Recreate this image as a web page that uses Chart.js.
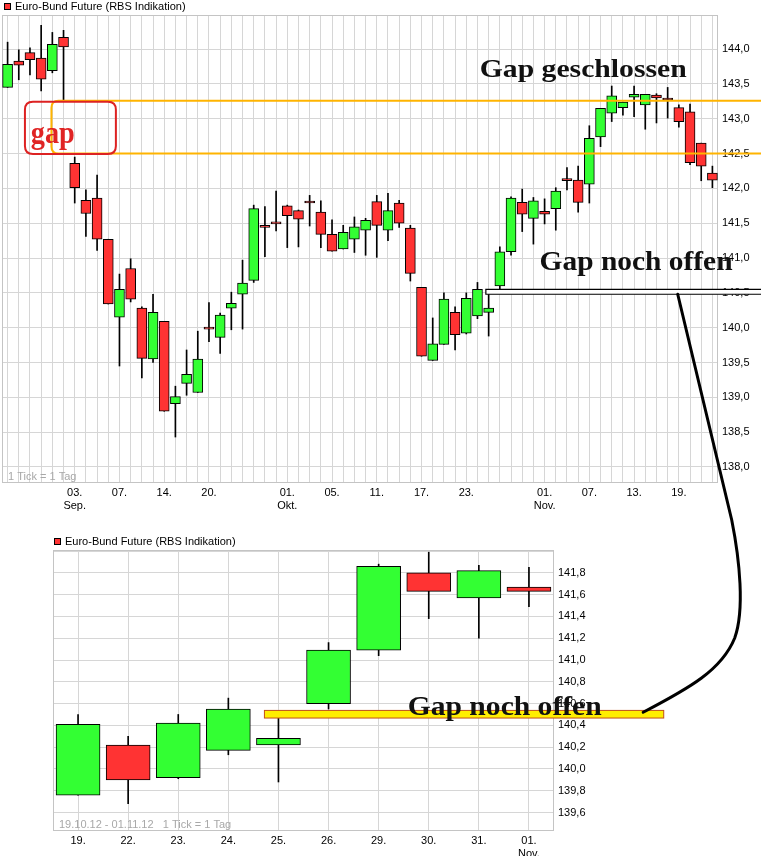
<!DOCTYPE html>
<html>
<head>
<meta charset="utf-8">
<script src="https://cdn.jsdelivr.net/npm/chart.js@4.4.1/dist/chart.umd.min.js"></script>
<style>
body{margin:0;background:#fff;width:761px;height:856px;overflow:hidden;position:relative}
canvas{position:absolute;left:0}
#top{top:0}
#bottom{top:520px}
#overlay{top:0;pointer-events:none}
</style>
</head>
<body>
<canvas id="top" width="761" height="520"></canvas>
<canvas id="bottom" width="761" height="336"></canvas>
<canvas id="overlay" width="761" height="856"></canvas>
<script>
// Euro-Bund Future, Tageskerzen
var dates = ['24.08','27.08','28.08','29.08','30.08','31.08','03.09','04.09','05.09','06.09',
  '07.09','10.09','11.09','12.09','14.09','17.09','18.09','19.09','20.09','21.09',
  '24.09','25.09','26.09','27.09','28.09','01.10','02.10','03.10','04.10','05.10',
  '08.10','09.10','10.10','11.10','12.10','15.10','16.10','17.10','18.10','19.10',
  '22.10','23.10','24.10','25.10','26.10','29.10','30.10','31.10','01.11','02.11',
  '05.11','06.11','07.11','08.11','09.11','12.11','13.11','14.11','15.11','16.11',
  '19.11','20.11','21.11','22.11'];
var open = [143.45,143.83,143.95,143.87,143.69,144.17,142.36,141.83,141.86,141.27,
  140.15,140.85,140.28,139.55,140.09,138.91,139.20,139.07,139.98,139.86,
  140.28,140.48,140.68,141.47,141.49,141.75,141.68,141.81,141.66,141.34,
  141.13,141.27,141.40,141.81,141.40,141.79,141.43,140.58,139.53,139.76,
  140.22,139.92,140.17,140.22,140.60,141.09,141.80,141.57,141.67,141.71,
  142.14,142.12,142.06,142.74,143.08,143.16,143.31,143.20,143.34,143.29,
  143.16,143.10,142.65,142.22];
var high = [144.10,143.99,144.02,144.34,144.24,144.27,142.45,141.98,142.19,141.27,
  140.77,140.99,140.30,140.48,140.09,139.16,139.68,139.95,140.36,140.21,
  140.51,140.97,141.76,141.74,141.96,141.76,141.69,141.90,141.82,141.55,
  141.47,141.59,141.57,141.90,141.93,141.83,141.47,140.58,140.14,140.50,
  140.30,140.50,140.65,140.48,141.16,141.88,141.99,141.87,141.85,142.01,
  142.30,142.32,142.90,143.15,143.47,143.24,143.47,143.35,143.36,143.45,
  143.20,143.21,142.65,142.32];
var low = [143.45,143.56,143.63,143.40,143.66,143.27,141.79,141.31,141.11,140.34,
  139.45,140.37,139.28,139.50,138.80,138.43,139.03,139.07,139.80,139.63,
  139.97,139.98,140.65,141.02,141.39,141.15,141.16,141.46,141.15,141.10,
  141.13,141.08,141.04,141.01,141.25,141.44,140.67,139.59,139.53,139.76,
  139.68,139.91,140.13,139.88,140.55,141.04,141.38,141.20,141.49,141.40,
  141.98,141.66,141.79,142.60,142.96,143.05,143.03,142.85,142.94,143.01,
  142.88,142.34,142.11,142.01];
var close = [143.78,143.77,143.85,143.57,144.07,144.03,142.01,141.64,141.27,140.34,
  140.55,140.41,139.56,140.22,138.80,139.01,139.33,139.55,139.98,140.18,
  140.35,140.64,141.71,141.44,141.49,141.61,141.56,141.79,141.34,141.10,
  141.37,141.45,141.54,141.47,141.68,141.50,140.78,139.59,139.77,140.41,
  139.90,140.42,140.55,140.28,141.09,141.86,141.63,141.82,141.63,141.96,
  142.11,141.80,142.72,143.15,143.33,143.24,143.35,143.35,143.30,143.27,
  142.96,142.37,142.32,142.12];

var topTicks = ['03.09','07.09','14.09','20.09','01.10','05.10','11.10','17.10','23.10','01.11','07.11','13.11','19.11'];
var topMonths = {'03.09':'Sep.','01.10':'Okt.','01.11':'Nov.'};
var bottomMonths = {'01.11':'Nov.'};
var zoomFrom = '19.10', zoomTo = '01.11';

var gapClosed = [142.50, 143.26];
var gapOpen = [140.48, 140.55];

var GREEN = '#33ff33', RED = '#ff3333', GRID = '#d6d6d6';
var SANS = '"Liberation Sans", Arial, sans-serif';
var SERIF = '"Liberation Serif", "Times New Roman", serif';

function fmt(v){ return v.toFixed(1).replace('.', ','); }

function candleSets(a, b, thick){
  var o = open.slice(a, b), h = high.slice(a, b), l = low.slice(a, b), c = close.slice(a, b);
  return [
    {
      label: 'body',
      data: o.map(function(v, i){ return [v, c[i]]; }),
      backgroundColor: o.map(function(v, i){ return c[i] > v ? GREEN : RED; }),
      borderColor: '#000', borderWidth: 1, borderSkipped: false,
      barThickness: thick, minBarLength: 2, grouped: false, order: 0
    },
    {
      label: 'wick',
      data: l.map(function(v, i){ return [v, h[i]]; }),
      backgroundColor: '#000', borderWidth: 0,
      barThickness: 1, grouped: false, order: 1
    }
  ];
}

function fitText(ctx, text, x, base, w, size, color, weight){
  ctx.save();
  ctx.font = (weight || 'bold') + ' ' + size + 'px ' + SERIF;
  var m = ctx.measureText(text).width;
  ctx.translate(x, base);
  ctx.scale(w / m, 1);
  ctx.fillStyle = color;
  ctx.textBaseline = 'alphabetic';
  ctx.fillText(text, 0, 0);
  ctx.restore();
}

function roundBox(ctx, x1, y1, x2, y2, r){
  ctx.beginPath();
  ctx.moveTo(x1 + r, y1);
  ctx.lineTo(x2 - r, y1); ctx.quadraticCurveTo(x2, y1, x2, y1 + r);
  ctx.lineTo(x2, y2 - r); ctx.quadraticCurveTo(x2, y2, x2 - r, y2);
  ctx.lineTo(x1 + r, y2); ctx.quadraticCurveTo(x1, y2, x1, y2 - r);
  ctx.lineTo(x1, y1 + r); ctx.quadraticCurveTo(x1, y1, x1 + r, y1);
  ctx.closePath();
}

// rahmen, legende und fussnote
function framePlugin(lx, ly, note){
  return {
    id: 'frame',
    beforeDatasetsDraw: function(chart){
      var a = chart.chartArea, ctx = chart.ctx;
      ctx.save();
      ctx.strokeStyle = '#c4c4c4';
      ctx.lineWidth = 1;
      ctx.strokeRect(Math.round(a.left) + 0.5, Math.round(a.top) + 0.5,
        Math.round(a.right - a.left) - 1, Math.round(a.bottom - a.top) - 1);
      ctx.fillStyle = '#a8a8a8';
      ctx.font = '11px ' + SANS;
      ctx.textBaseline = 'middle';
      ctx.fillText(note, a.left + 6, a.bottom - 6);
      ctx.restore();
    },
    afterDraw: function(chart){
      var ctx = chart.ctx;
      ctx.save();
      ctx.fillStyle = RED;
      ctx.fillRect(lx, ly, 7, 7);
      ctx.strokeStyle = '#000';
      ctx.lineWidth = 1;
      ctx.strokeRect(lx + 0.5, ly + 0.5, 6, 6);
      ctx.fillStyle = '#000';
      ctx.font = '11px ' + SANS;
      ctx.textBaseline = 'middle';
      ctx.fillText('Euro-Bund Future (RBS Indikation)', lx + 11, ly + 4);
      ctx.restore();
    }
  };
}

var topNotes = {
  id: 'topNotes',
  afterDraw: function(chart){
    var ctx = chart.ctx, x = chart.scales.x, y = chart.scales.y, W = chart.width;
    var yT = y.getPixelForValue(gapClosed[1]), yB = y.getPixelForValue(gapClosed[0]);
    ctx.save();
    // orange klammer um die alte luecke
    var xl = x.getPixelForValue(3.92);
    ctx.strokeStyle = '#ffb400';
    ctx.lineWidth = 2;
    ctx.beginPath();
    ctx.moveTo(W, yT); ctx.lineTo(xl + 7, yT);
    ctx.quadraticCurveTo(xl, yT, xl, yT + 7);
    ctx.lineTo(xl, yB - 7);
    ctx.quadraticCurveTo(xl, yB, xl + 7, yB);
    ctx.lineTo(W, yB);
    ctx.stroke();
    // rote box "gap"
    ctx.strokeStyle = '#dd2222';
    roundBox(ctx, x.getPixelForValue(1.55), yT + 1, x.getPixelForValue(9.68), yB + 0.5, 8);
    ctx.stroke();
    ctx.restore();
    fitText(ctx, 'gap', x.getPixelForValue(2.07), yB - 11, 44, 31, '#e02424', 'bold');
    fitText(ctx, 'Gap geschlossen', x.getPixelForValue(42.2), yT - 24, 207, 26, '#111');
    // offene luecke
    var oT = y.getPixelForValue(gapOpen[1]), oB = y.getPixelForValue(gapOpen[0]);
    var ox = x.getPixelForValue(42.75);
    ctx.save();
    ctx.fillStyle = '#fff';
    ctx.fillRect(ox, oT, W - ox, oB - oT);
    ctx.strokeStyle = '#000';
    ctx.lineWidth = 1.2;
    ctx.beginPath();
    ctx.moveTo(W, oT); ctx.lineTo(ox, oT); ctx.lineTo(ox, oB); ctx.lineTo(W, oB);
    ctx.stroke();
    ctx.restore();
    fitText(ctx, 'Gap noch offen', x.getPixelForValue(47.55), oT - 19, 193, 27, '#111');
  }
};

var bottomNotes = {
  id: 'bottomNotes',
  afterDraw: function(chart){
    var ctx = chart.ctx, x = chart.scales.x, y = chart.scales.y;
    var oT = y.getPixelForValue(gapOpen[1]) + 1.4, oB = y.getPixelForValue(gapOpen[0]) + 1.4;
    var x1 = x.getPixelForValue(3.72), x2 = x.getPixelForValue(11.69);
    ctx.save();
    ctx.fillStyle = '#ffee00';
    ctx.fillRect(x1, oT, x2 - x1, oB - oT);
    ctx.strokeStyle = '#c05018';
    ctx.lineWidth = 1;
    ctx.strokeRect(x1, oT, x2 - x1, oB - oT);
    ctx.restore();
    fitText(ctx, 'Gap noch offen', x.getPixelForValue(6.58), oB - 3, 194, 27, '#111');
  }
};

function xTicks(months, only){
  return function(val){
    var d = this.getLabelForValue(val);
    if (only && only.indexOf(d) < 0) return '';
    var day = d.slice(0, 2) + '.';
    return months[d] ? [day, months[d]] : day;
  };
}

function baseOptions(pad, yMin, yMax, step, yWidth, xHeight, months, only){
  return {
    responsive: false,
    animation: false,
    layout: {padding: pad},
    plugins: {legend: {display: false}, tooltip: {enabled: false}},
    scales: {
      x: {
        grid: {color: GRID, offset: false, drawTicks: false},
        border: {display: false},
        ticks: {autoSkip: false, maxRotation: 0, padding: 3, color: '#000',
          font: {family: SANS, size: 11}, callback: xTicks(months, only)},
        afterFit: function(s){ s.height = xHeight; }
      },
      y: {
        position: 'right', min: yMin, max: yMax,
        grid: {color: GRID, drawTicks: false},
        border: {display: false},
        ticks: {stepSize: step, includeBounds: false, padding: 4, color: '#000',
          font: {family: SANS, size: 11},
          callback: function(v){ return v > yMax - step / 2 ? '' : fmt(v); }},
        afterFit: function(s){ s.width = yWidth; }
      }
    }
  };
}

var topChart = new Chart(document.getElementById('top'), {
  type: 'bar',
  data: {labels: dates, datasets: candleSets(0, dates.length, 10)},
  options: baseOptions({left: 2, top: 15, right: 0, bottom: 0}, 137.77, 144.49, 0.5, 43, 37,
    topMonths, topTicks),
  plugins: [framePlugin(4, 3, '1 Tick = 1 Tag'), topNotes]
});

var a = dates.indexOf(zoomFrom), b = dates.indexOf(zoomTo) + 1;
var bottomChart = new Chart(document.getElementById('bottom'), {
  type: 'bar',
  data: {labels: dates.slice(a, b), datasets: candleSets(a, b, 44)},
  options: baseOptions({left: 53, top: 30, right: 0, bottom: 0}, 139.43, 142.01, 0.2, 207, 25,
    bottomMonths, null),
  plugins: [framePlugin(54, 18, zoomFrom + '.12 - ' + zoomTo + '.12   1 Tick = 1 Tag'), bottomNotes]
});

// verbindungslinie zwischen beiden charts
(function(){
  var ctx = document.getElementById('overlay').getContext('2d');
  var tx = topChart.scales.x, ty = topChart.scales.y;
  var by = bottomChart.scales.y, bx = bottomChart.scales.x;
  var sx = tx.getPixelForValue(59.9), sy = ty.getPixelForValue(gapOpen[0]);
  var ex = bx.getPixelForValue(11.28), ey = 520 + by.getPixelForValue(140.52);
  ctx.strokeStyle = '#000';
  ctx.lineWidth = 3;
  ctx.lineCap = 'round';
  ctx.beginPath();
  ctx.moveTo(sx, sy);
  ctx.lineTo(sx + 54, 520);
  ctx.bezierCurveTo(sx + 62, 560, sx + 67, 610, sx + 57, 638);
  ctx.bezierCurveTo(sx + 44, 670, sx + 12, 688, ex, ey);
  ctx.stroke();
})();
</script>
</body>
</html>
